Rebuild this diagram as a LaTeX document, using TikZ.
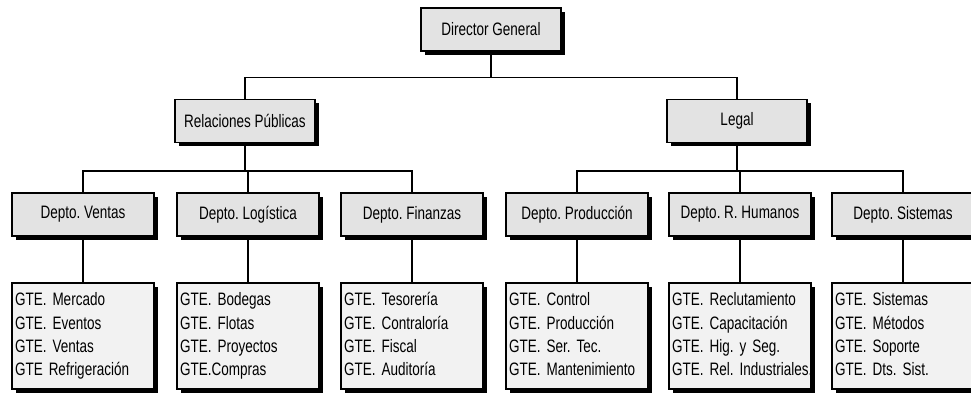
\documentclass[tikz,border=0pt]{standalone}
\usepackage{fontspec}
\setmainfont{Liberation Sans}[FakeStretch=0.75]
\frenchspacing
\usetikzlibrary{shadows,positioning}
\newcommand{\cajafont}{\fontsize{18}{20}\selectfont}
\newcommand{\listafont}{\fontsize{18}{23.3}\selectfont}
\newcommand{\gtes}[1]{\begin{tabular}{@{}l@{}}#1\end{tabular}}

\begin{document}
\begin{tikzpicture}[x=1pt,y=-1pt,line width=1.4pt,
  jefe/.style={draw,fill=gray!22,line width=1.8pt,minimum width=140pt,minimum height=43pt,inner sep=2pt,
    font=\cajafont,drop shadow={shadow xshift=4pt,shadow yshift=-4pt,fill=black,opacity=1}},
  depto/.style={jefe,minimum width=142pt},
  gte/.style={jefe,fill=gray!10,minimum width=142pt,minimum height=106pt,text width=136pt,align=left,
    font=\listafont}]

\useasboundingbox (0,0) rectangle (971,395);

\node[jefe] (dg) at (491,29.5) {Director General};
\node[jefe] (rp) at (245,121) {Relaciones Públicas};
\node[jefe] (legal) at (737,121) {Legal};

\node[depto] (ventas) at (83,214.5) {Depto. Ventas};
\node[depto] (logistica) at (248,214.5) {Depto. Logística};
\node[depto] (finanzas) at (412,214.5) {Depto. Finanzas};
\node[depto] (produccion) at (577,214.5) {Depto. Producción};
\node[depto] (humanos) at (740,214.5) {Depto. R. Humanos};
\node[depto] (sistemas) at (903,214.5) {Depto. Sistemas};

\node[gte] (g-ventas) at (83,336) {\gtes{GTE. Mercado\\GTE. Eventos\\GTE. Ventas\\GTE Refrigeración}};
\node[gte] (g-logistica) at (248,336) {\gtes{GTE. Bodegas\\GTE. Flotas\\GTE. Proyectos\\GTE.Compras}};
\node[gte] (g-finanzas) at (412,336) {\gtes{GTE. Tesorería\\GTE. Contraloría\\GTE. Fiscal\\GTE. Auditoría}};
\node[gte] (g-produccion) at (577,336) {\gtes{GTE. Control\\GTE. Producción\\GTE. Ser. Tec.\\GTE. Mantenimiento}};
\node[gte] (g-humanos) at (740,336) {\gtes{GTE. Reclutamiento\\GTE. Capacitación\\GTE. Hig. y Seg.\\GTE. Rel. Industriales.}};
\node[gte] (g-sistemas) at (903,336) {\gtes{GTE. Sistemas\\GTE. Métodos\\GTE. Soporte\\GTE. Dts. Sist.}};

\draw (dg.south) -- ++(0,25.5) coordinate (dgbar);
\draw (rp.north) |- (dgbar) -| (legal.north);

\draw (rp.south) -- ++(0,27.5) coordinate (rpbar);
\draw (ventas.north) |- (rpbar) -| (finanzas.north);
\draw (rpbar) -| (logistica.north);

\draw (legal.south) -- ++(0,27.5) coordinate (legalbar);
\draw (produccion.north) |- (legalbar) -| (sistemas.north);
\draw (legalbar) -| (humanos.north);

\foreach \d in {ventas,logistica,finanzas,produccion,humanos,sistemas}
  \draw (\d.south) -- (g-\d.north);

\end{tikzpicture}
\end{document}
